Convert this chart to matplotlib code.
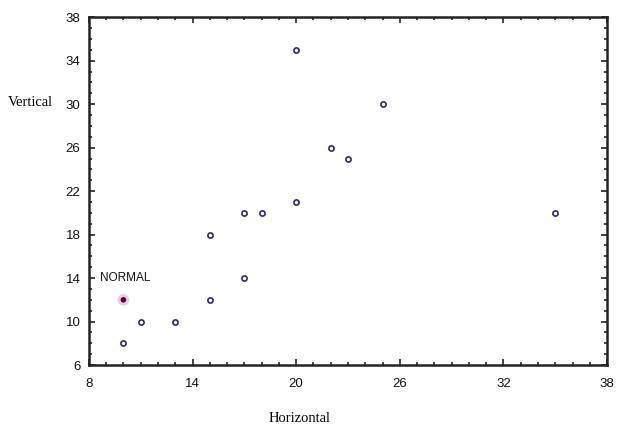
import matplotlib
matplotlib.use('Agg')
import matplotlib.pyplot as plt
from matplotlib.ticker import MultipleLocator

# data
horizontal = [10, 11, 13, 15, 15, 17, 17, 18, 20, 20, 22, 23, 25, 35]
vertical = [8, 10, 10, 12, 18, 14, 20, 20, 21, 35, 26, 25, 30, 20]
normal_x = [10]
normal_y = [12]
normal_label = 'NORMAL'
x_ticks = [8, 14, 20, 26, 32, 38]
y_ticks = [6, 10, 14, 18, 22, 26, 30, 34, 38]

fig = plt.figure(figsize=(6.17, 4.29), dpi=100)
ax = fig.add_axes([0.144, 0.149, 0.840, 0.811])

ax.scatter(horizontal, vertical, s=14, facecolors='white', edgecolors='#2a2775',
           linewidths=1.2, zorder=3)
ax.scatter(normal_x, normal_y, s=70, color='#f0c8e6', edgecolors='none', zorder=3)
ax.scatter(normal_x, normal_y, s=16, color='#4a0a3c', edgecolors='none', zorder=4)
ax.text(normal_x[0] - 1.35, normal_y[0] + 2.0, normal_label, fontsize=8.5,
        family='Liberation Sans', va='center', ha='left', color='#111111')

ax.set_xlim(8, 38)
ax.set_ylim(6, 38)
ax.set_xticks(x_ticks)
ax.set_yticks(y_ticks)
ax.xaxis.set_minor_locator(MultipleLocator(1))
ax.yaxis.set_minor_locator(MultipleLocator(1))
ax.tick_params(which='both', direction='in', top=True, right=True,
               color='#222222', width=1.2)
ax.tick_params(which='major', length=4, pad=9)
ax.tick_params(which='minor', length=2.5)
for lab in ax.get_xticklabels() + ax.get_yticklabels():
    lab.set_family('Liberation Sans')
    lab.set_fontsize(9.5)
    lab.set_color('#111111')
ax.tick_params(axis='y', pad=6)

for sp in ax.spines.values():
    sp.set_linewidth(1.8)
    sp.set_color('#222222')

fig.text(0.013, 0.76, 'Vertical', fontsize=10.5, family='Liberation Serif',
         va='center', ha='left')
fig.text(0.485, 0.025, 'Horizontal', fontsize=10.5, family='Liberation Serif',
         va='center', ha='center')

fig.savefig('out.png', dpi=100, facecolor='white')
